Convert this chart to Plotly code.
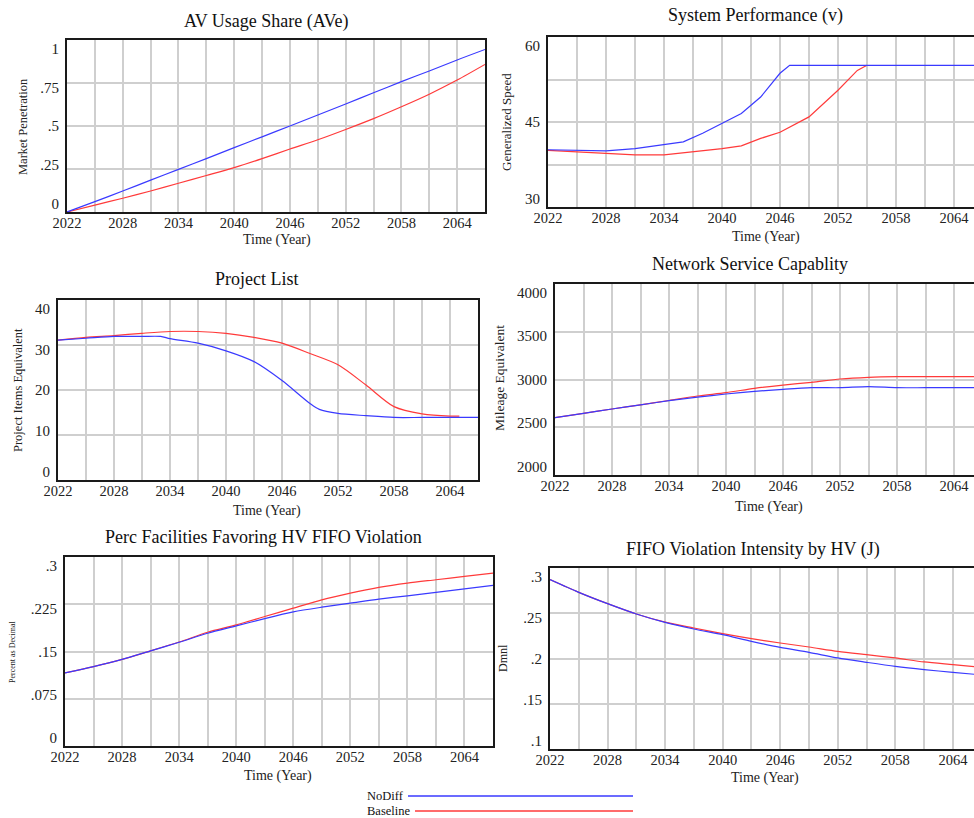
import plotly.graph_objects as go

W, H = 974, 818

# ---------------- data ----------------
years3 = [2022, 2025, 2028, 2031, 2034, 2037, 2040, 2043, 2046, 2049, 2052, 2055, 2058, 2061, 2064, 2067]
x_tick_vals = [2022, 2025, 2028, 2031, 2034, 2037, 2040, 2043, 2046, 2049, 2052, 2055, 2058, 2061, 2064, 2067]
x_tick_text = ["2022", "", "2028", "", "2034", "", "2040", "", "2046", "", "2052", "", "2058", "", "2064", ""]

# AV Usage Share (AVe)
ave_nodiff = [0, 0.06, 0.122, 0.185, 0.248, 0.31, 0.374, 0.437, 0.5, 0.564, 0.628, 0.693, 0.758, 0.82, 0.884, 0.945]
ave_base = [0, 0.04, 0.08, 0.122, 0.167, 0.212, 0.258, 0.31, 0.366, 0.42, 0.48, 0.543, 0.612, 0.685, 0.767, 0.858]

# System Performance (v)
v_nodiff_t = [2022, 2025, 2028, 2031, 2034, 2036, 2038, 2040, 2042, 2044, 2046, 2047, 2050, 2055, 2060, 2067]
v_nodiff = [40.1, 40.0, 39.9, 40.3, 41.0, 41.5, 43.0, 44.7, 46.5, 49.4, 53.6, 55.0, 55.0, 55.0, 55.0, 55.0]
v_base_t = [2022, 2025, 2028, 2031, 2034, 2037, 2040, 2042, 2044, 2046, 2049, 2052, 2054, 2055]
v_base = [40.0, 39.7, 39.5, 39.2, 39.2, 39.7, 40.3, 40.8, 42.1, 43.2, 45.9, 50.6, 54.1, 55.0]

# Project List
pl_nodiff_t = [2022, 2025, 2028, 2031, 2033, 2034, 2037, 2040, 2043, 2046, 2049, 2050, 2052, 2055, 2058, 2061, 2064, 2067]
pl_nodiff = [31.1, 31.5, 31.9, 31.9, 31.9, 31.4, 30.4, 28.7, 26.3, 22.1, 17.0, 15.7, 14.8, 14.3, 13.9, 13.9, 13.9, 13.9]
pl_base_t = [2022, 2025, 2028, 2031, 2034, 2037, 2040, 2043, 2046, 2049, 2052, 2055, 2058, 2061, 2064, 2065]
pl_base = [31.1, 31.7, 32.1, 32.6, 33.0, 33.0, 32.6, 31.7, 30.4, 28.1, 25.6, 21.1, 16.3, 14.7, 14.2, 14.2]

# Network Service Capablity
nsc_nodiff = [2600, 2645, 2691, 2735, 2778, 2815, 2848, 2875, 2897, 2914, 2914, 2925, 2914, 2914, 2914, 2914]
nsc_base = [2600, 2645, 2691, 2735, 2780, 2827, 2862, 2907, 2942, 2970, 3005, 3023, 3030, 3030, 3030, 3030]

# Perc Facilities Favoring HV FIFO Violation
pf_nodiff = [0.116, 0.126, 0.1375, 0.151, 0.1646, 0.179, 0.1906, 0.2023, 0.2129, 0.2203, 0.2267, 0.2331, 0.2384, 0.2437, 0.2495, 0.2549]
pf_base = [0.116, 0.126, 0.1375, 0.151, 0.1650, 0.1805, 0.1922, 0.2055, 0.2188, 0.232, 0.2426, 0.2517, 0.2586, 0.2639, 0.2692, 0.2745]

# FIFO Violation Intensity by HV (J)
j_nodiff = [0.2871, 0.2731, 0.2606, 0.2492, 0.2400, 0.2326, 0.2263, 0.2190, 0.2123, 0.2068, 0.2006, 0.1958, 0.1913, 0.1877, 0.1847, 0.1818]
j_base = [0.2871, 0.2731, 0.2606, 0.2492, 0.2402, 0.2337, 0.2274, 0.2219, 0.2171, 0.2127, 0.2079, 0.2042, 0.2006, 0.1962, 0.1932, 0.1902]

series_names = ["NoDiff", "Baseline"]

# ---------------- styling ----------------
FONT = "Liberation Serif"
BLUE = "#3a3aff"
RED = "#ff3a3a"
GRID = "#cfcfcf"
AX = "#1a1a1a"
INSET = 8.5  # px: Vensim draws the end y-labels inside the plot range

panels = [
    dict(title="AV Usage Share (AVe)", ytitle="Market Penetration", ytfs=12.5,
         box=(67, 485, 40, 212), xend=2067, shape="spline",
         ygrid=[0, 0.25, 0.5, 0.75, 1], yvals=[0, 0.25, 0.5, 0.75, 1], ytext=["0", ".25", ".5", ".75", "1"], yrange=[0, 1],
         tpos=(266, 22), xtpos=(277, 240), ytpos=(23, 127), right=False,
         data=[(years3, ave_base, 1), (years3, ave_nodiff, 0)]),
    dict(title="System Performance (v)", ytitle="Generalized Speed", ytfs=13,
         box=(548, 974, 37, 207), xend=2066.07, shape="linear",
         ygrid=[30, 37.5, 45, 52.5, 60], yvals=[30, 45, 60], ytext=["30", "45", "60"], yrange=[30, 60],
         tpos=(755, 16), xtpos=(766, 237), ytpos=(507, 122), right=True,
         data=[(v_base_t, v_base, 1), (v_nodiff_t, v_nodiff, 0)]),
    dict(title="Project List", ytitle="Project Items Equivalent", ytfs=12.5,
         box=(58, 478, 300, 480), xend=2067, shape="spline",
         ygrid=[0, 10, 20, 30, 40], yvals=[0, 10, 20, 30, 40], ytext=["0", "10", "20", "30", "40"], yrange=[0, 40],
         tpos=(257, 279), xtpos=(267, 511), ytpos=(18, 390), right=False,
         data=[(pl_base_t, pl_base, 1), (pl_nodiff_t, pl_nodiff, 0)]),
    dict(title="Network Service Capablity", ytitle="Mileage Equivalent", ytfs=13.5,
         box=(555, 974, 284, 475), xend=2066.1, shape="spline",
         ygrid=[2000, 2500, 3000, 3500, 4000], yvals=[2000, 2500, 3000, 3500, 4000],
         ytext=["2000", "2500", "3000", "3500", "4000"], yrange=[2000, 4000],
         tpos=(750, 264), xtpos=(769, 507), ytpos=(500, 378), right=True,
         data=[(years3, nsc_base, 1), (years3, nsc_nodiff, 0)]),
    dict(title="Perc Facilities Favoring HV FIFO Violation", ytitle="Percent as Decimal", ytfs=8,
         box=(65, 493, 557, 746), xend=2067, shape="spline",
         ygrid=[0, 0.075, 0.15, 0.225, 0.3], yvals=[0, 0.075, 0.15, 0.225, 0.3],
         ytext=["0", ".075", ".15", ".225", ".3"], yrange=[0, 0.3],
         tpos=(263, 537), xtpos=(278, 776), ytpos=(12, 652), right=False,
         data=[(years3, pf_base, 1), (years3, pf_nodiff, 0)]),
    dict(title="FIFO Violation Intensity by HV (J)", ytitle="Dmnl", ytfs=12,
         box=(550, 974, 568, 749), xend=2066.2, shape="spline",
         ygrid=[0.1, 0.15, 0.2, 0.25, 0.3], yvals=[0.1, 0.15, 0.2, 0.25, 0.3],
         ytext=[".1", ".15", ".2", ".25", ".3"], yrange=[0.1, 0.3],
         tpos=(753, 549), xtpos=(765, 778), ytpos=(503, 658), right=True,
         data=[(years3, j_base, 1), (years3, j_nodiff, 0)]),
]

fig = go.Figure()
annotations = []
layout = {}
colors = [BLUE, RED]
n = len(panels)

for i, p in enumerate(panels):
    k = "" if i == 0 else str(i + 1)
    kl = str(i + 1 + n)  # label-only y axis
    x0, x1, y0, y1 = p["box"]
    hpx = y1 - y0
    for (xs, ys, si) in p["data"]:
        line = dict(color=colors[si], width=1.2, shape=p["shape"])
        if p["shape"] == "spline":
            line["smoothing"] = 0.8
        fig.add_trace(go.Scatter(x=xs, y=ys, mode="lines", name=series_names[si],
                                 line=line, xaxis="x" + k, yaxis="y" + k, showlegend=False))
    # empty trace so the label axis is instantiated
    fig.add_trace(go.Scatter(x=[], y=[], xaxis="x" + k, yaxis="y" + kl, showlegend=False, hoverinfo="skip"))

    layout["xaxis" + k] = dict(
        domain=[x0 / W, min(x1 / W, 1)], range=[2022, p["xend"]], anchor="y" + k,
        tickmode="array", tickvals=x_tick_vals, ticktext=x_tick_text,
        showgrid=True, gridcolor=GRID, gridwidth=1.5,
        showline=True, linecolor=AX, linewidth=2, mirror=True, automargin=False,
        ticks="", zeroline=False, fixedrange=True, ticklabelstandoff=-3,
        tickfont=dict(family=FONT, size=14.5, color="#222"),
    )
    layout["yaxis" + k] = dict(
        domain=[1 - y1 / H, 1 - y0 / H], range=p["yrange"], anchor="x" + k,
        tickmode="array", tickvals=p["ygrid"], showticklabels=False,
        showgrid=True, gridcolor=GRID, gridwidth=1.5, automargin=False,
        showline=True, linecolor=AX, linewidth=2, mirror=not p["right"],
        ticks="", zeroline=False, fixedrange=True,
    )
    lo, hi = p["yrange"]
    span = (hi - lo) * hpx / (hpx - 2 * INSET)
    pad = span * INSET / hpx
    layout["yaxis" + kl] = dict(
        overlaying="y" + k, anchor="x" + k, side="left", automargin=False,
        range=[lo - pad, hi + pad],
        tickmode="array", tickvals=p["yvals"], ticktext=p["ytext"],
        showgrid=False, showline=False, zeroline=False, ticks="", fixedrange=True,
        ticklabelstandoff=7, tickfont=dict(family=FONT, size=15, color="#222"),
    )
    tx, ty = p["tpos"]
    annotations.append(dict(text=p["title"], x=tx / W, y=1 - ty / H, xref="paper", yref="paper",
                            showarrow=False, xanchor="center", yanchor="middle",
                            font=dict(family=FONT, size=18, color="#111")))
    ax_, ay_ = p["xtpos"]
    annotations.append(dict(text="Time (Year)", x=ax_ / W, y=1 - ay_ / H, xref="paper", yref="paper",
                            showarrow=False, xanchor="center", yanchor="middle",
                            font=dict(family=FONT, size=14, color="#222")))
    yx, yy = p["ytpos"]
    annotations.append(dict(text=p["ytitle"], x=yx / W, y=1 - yy / H, xref="paper", yref="paper",
                            showarrow=False, xanchor="center", yanchor="middle", textangle=-90,
                            font=dict(family=FONT, size=p["ytfs"], color="#222")))

# legend (text + sample lines)
legend_items = [("NoDiff", BLUE, 796, 408), ("Baseline", RED, 811, 415)]
shapes = []
for name, col, ly, lx0 in legend_items:
    annotations.append(dict(text=name, x=365 / W, y=1 - ly / H, xref="paper", yref="paper",
                            showarrow=False, xanchor="left", yanchor="middle",
                            font=dict(family=FONT, size=12.5, color="#111")))
    shapes.append(dict(type="line", xref="paper", yref="paper", x0=lx0 / W, x1=633 / W,
                       y0=1 - ly / H, y1=1 - ly / H, line=dict(color=col, width=1.3)))

fig.update_layout(
    width=W, height=H, margin=dict(l=0, r=0, t=0, b=0, autoexpand=False),
    paper_bgcolor="white", plot_bgcolor="white",
    showlegend=False, annotations=annotations, shapes=shapes,
    **layout,
)

fig.write_html("out.html", config={"displayModeBar": False})
